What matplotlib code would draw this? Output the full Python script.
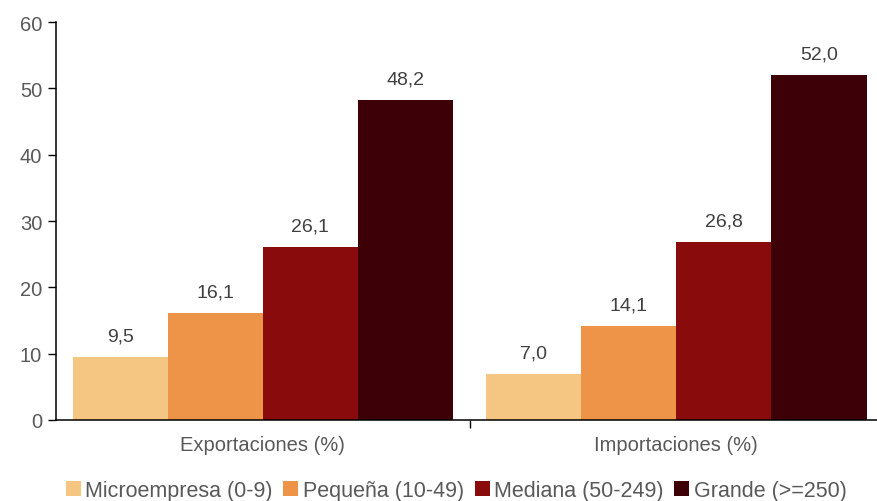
import matplotlib

matplotlib.use("Agg")
import matplotlib.pyplot as plt
import numpy as np

plt.rcParams["font.family"] = ["Liberation Sans", "DejaVu Sans"]

categories = ["Exportaciones (%)", "Importaciones (%)"]
series = ["Microempresa (0-9)", "Pequeña (10-49)", "Mediana (50-249)", "Grande (>=250)"]
micro = [9.5, 7.0]
pequena = [16.1, 14.1]
mediana = [26.1, 26.8]
grande = [48.2, 52.0]
values = [micro, pequena, mediana, grande]
colors = ["#F5C682", "#EE9449", "#8A0B0B", "#3C0006"]

TEXT = "#595959"
FS = 14.5

fig = plt.figure(figsize=(8.77, 5.02), dpi=100)
ax = fig.add_axes([0.0639, 0.1614, 0.9431, 0.7926])

x = np.arange(len(categories))
width = 0.23
for i, (name, vals, col) in enumerate(zip(series, values, colors)):
    offset = (i - 1.5) * width
    bars = ax.bar(x + offset, vals, width, color=col, label=name)
    for b, v in zip(bars, vals):
        ax.annotate(
            f"{v:.1f}".replace(".", ","),
            (b.get_x() + b.get_width() / 2, v),
            xytext=(0, 9), textcoords="offset points",
            ha="center", va="bottom", fontsize=FS - 0.5, color="#404040",
        )

ax.set_xlim(-0.5, 1.5)
ax.set_ylim(0, 60)
ax.set_yticks(range(0, 61, 10))
ax.set_xticks([0.5])
ax.set_xticklabels([""])
ax.tick_params(axis="x", length=6, width=1, direction="out")
for xi, cat in zip(x, categories):
    ax.text(xi, -3.7, cat, ha="center", va="center", fontsize=FS, color=TEXT)
ax.tick_params(axis="y", length=6, width=1, labelsize=FS, labelcolor=TEXT, pad=4)
for side in ("top", "right"):
    ax.spines[side].set_visible(False)
ax.spines["left"].set_linewidth(1.1)
ax.spines["bottom"].set_linewidth(1.1)

fig.legend(
    loc="lower center", bbox_to_anchor=(0.52, -0.038), ncol=4, frameon=False,
    fontsize=15.5, handlelength=0.7, handleheight=0.7, handletextpad=0.2,
    columnspacing=0.5, labelcolor=TEXT,
)

fig.savefig("out.png", dpi=100)
